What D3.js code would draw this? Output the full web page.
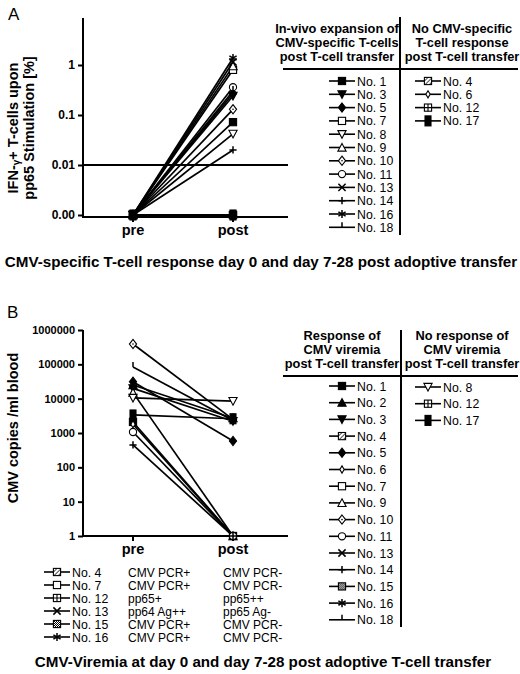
<!DOCTYPE html>
<html>
<head>
<meta charset="utf-8">
<script src="https://cdn.jsdelivr.net/npm/d3@7"></script>
<style>
  body { margin: 0; background: #fff; }
  svg { display: block; font-family: "Liberation Sans", Arial, sans-serif; }
</style>
</head>
<body>
<div id="chart"></div>
<script>
// Panel A - IFN-gamma+ T-cells (%) pre / post transfer
const timepoints = ["pre", "post"];
const aPatients = ["No. 1", "No. 3", "No. 5", "No. 7", "No. 8", "No. 9", "No. 10", "No. 11",
                   "No. 13", "No. 14", "No. 16", "No. 18", "No. 4", "No. 6", "No. 12", "No. 17"];
const aPre  = [0.001, 0.001, 0.001, 0.001, 0.001, 0.001, 0.001, 0.001,
               0.001, 0.001, 0.001, 0.001, 0.001, 0.001, 0.001, 0.001];
const aPost = [0.072, 0.24, 0.27, 0.8, 0.042, 0.95, 0.13, 0.36,
               1.15, 0.02, 1.38, 0.3, 0.001, 0.001, 0.001, 0.001];
const aTicks = [0.001, 0.01, 0.1, 1];
const aTickLabels = ["0.00", "0.01", "0.1", "1"];
const aThreshold = 0.01;
const aExpansion = ["No. 1", "No. 3", "No. 5", "No. 7", "No. 8", "No. 9", "No. 10", "No. 11",
                    "No. 13", "No. 14", "No. 16", "No. 18"];
const aNoResponse = ["No. 4", "No. 6", "No. 12", "No. 17"];

// Panel B - CMV copies / ml blood pre / post transfer
const bPatients = ["No. 10", "No. 18", "No. 5", "No. 2", "No. 3", "No. 9",
                   "No. 8", "No. 17", "No. 1", "No. 6", "No. 11", "No. 14"];
const bPre  = [390000, 83000, 31000, 25000, 20000, 15000, 10500, 3350, 2100, 1800, 1070, 450];
const bPost = [2500, 2300, 585, 2700, 2200, 1, 8500, 2600, 1, 1, 1, 1];
const bTicks = [1, 10, 100, 1000, 10000, 100000, 1000000];
const bResponse = ["No. 1", "No. 2", "No. 3", "No. 4", "No. 5", "No. 6", "No. 7", "No. 9",
                   "No. 10", "No. 11", "No. 13", "No. 14", "No. 15", "No. 16", "No. 18"];
const bNoResponse = ["No. 8", "No. 12", "No. 17"];
const bQualPatients = ["No. 4", "No. 7", "No. 12", "No. 13", "No. 15", "No. 16"];
const bQualPre  = ["CMV PCR+", "CMV PCR+", "pp65+", "pp64 Ag++", "CMV PCR+", "CMV PCR+"];
const bQualPost = ["CMV PCR-", "CMV PCR-", "pp65++", "pp65 Ag-", "CMV PCR-", "CMV PCR-"];

// marker shape per patient (same in both panels)
const markerOf = {
  "No. 1": "square", "No. 2": "triUp", "No. 3": "triDown", "No. 4": "hatch",
  "No. 5": "diamond", "No. 6": "diamondSmall", "No. 7": "squareOpen", "No. 8": "triDownOpen",
  "No. 9": "triUpOpen", "No. 10": "diamondOpen", "No. 11": "circleOpen", "No. 12": "grid",
  "No. 13": "cross", "No. 14": "plus", "No. 15": "check", "No. 16": "star",
  "No. 17": "rectTall", "No. 18": "tick"
};

const W = 520, H = 674;
const svg = d3.select("#chart").append("svg")
  .attr("width", W).attr("height", H)
  .attr("viewBox", [0, 0, W, H]);

const defs = svg.append("defs");
const hatch = defs.append("pattern").attr("id", "hatch")
  .attr("width", 3).attr("height", 3).attr("patternUnits", "userSpaceOnUse")
  .attr("patternTransform", "rotate(45)");
hatch.append("rect").attr("width", 3).attr("height", 3).attr("fill", "#fff");
hatch.append("line").attr("x1", 0).attr("y1", 0).attr("x2", 0).attr("y2", 3)
  .attr("stroke", "#000").attr("stroke-width", 1.4);
const check = defs.append("pattern").attr("id", "check")
  .attr("width", 2).attr("height", 2).attr("patternUnits", "userSpaceOnUse");
check.append("rect").attr("width", 2).attr("height", 2).attr("fill", "#fff");
check.append("rect").attr("width", 1).attr("height", 1).attr("fill", "#000");
check.append("rect").attr("x", 1).attr("y", 1).attr("width", 1).attr("height", 1).attr("fill", "#000");

// draw a marker centred at (x, y)
function marker(g, kind, x, y) {
  const s = 3.6;
  const m = g.append("g").attr("transform", `translate(${x},${y})`)
    .attr("stroke", "#000").attr("stroke-width", 1.1);
  const sq = (fill) => m.append("rect").attr("x", -s).attr("y", -s)
    .attr("width", 2 * s).attr("height", 2 * s).attr("fill", fill);
  const path = (d, fill) => m.append("path").attr("d", d).attr("fill", fill);
  switch (kind) {
    case "square": sq("#000"); break;
    case "squareOpen": sq("#fff"); break;
    case "hatch": sq("url(#hatch)"); break;
    case "check": sq("url(#check)"); break;
    case "grid":
      sq("#fff");
      path(`M${-s},0H${s}M0,${-s}V${s}`, "none"); break;
    case "triUp": path(`M0,${-s - 0.5}L${s + 0.5},${s}L${-s - 0.5},${s}Z`, "#000"); break;
    case "triUpOpen": path(`M0,${-s - 0.5}L${s + 0.5},${s}L${-s - 0.5},${s}Z`, "#fff"); break;
    case "triDown": path(`M0,${s + 0.5}L${s + 0.5},${-s}L${-s - 0.5},${-s}Z`, "#000"); break;
    case "triDownOpen": path(`M0,${s + 0.5}L${s + 0.5},${-s}L${-s - 0.5},${-s}Z`, "#fff"); break;
    case "diamond": path(`M0,${-s - 1}L${s},0L0,${s + 1}L${-s},0Z`, "#000"); break;
    case "diamondOpen":
      path(`M0,${-s - 1}L${s},0L0,${s + 1}L${-s},0Z`, "#fff");
      m.append("circle").attr("r", 0.8).attr("fill", "#000").attr("stroke", "none"); break;
    case "diamondSmall": path(`M0,${-s}L${s * 0.6},0L0,${s}L${-s * 0.6},0Z`, "#fff"); break;
    case "circleOpen": m.append("circle").attr("r", s).attr("fill", "#fff"); break;
    case "cross": path(`M${-s},${-s}L${s},${s}M${-s},${s}L${s},${-s}`, "none").attr("stroke-width", 1.5); break;
    case "plus": path(`M${-s},0H${s}M0,${-s}V${s}`, "none").attr("stroke-width", 1.5); break;
    case "star":
      path(`M0,${-s - 0.5}V${s + 0.5}M${-s},${-s * 0.6}L${s},${s * 0.6}M${-s},${s * 0.6}L${s},${-s * 0.6}`, "none")
        .attr("stroke-width", 1.5); break;
    case "rectTall": m.append("rect").attr("x", -3).attr("y", -5).attr("width", 6).attr("height", 10).attr("fill", "#000"); break;
    case "tick": path(`M0,0V${-s - 1.5}`, "none").attr("stroke-width", 1.5); break;
  }
  return m;
}

// legend row: line with marker and a label
function legendRow(g, name, mx, y, labelSize) {
  g.append("line").attr("x1", mx - 13).attr("x2", mx + 13).attr("y1", y).attr("y2", y)
    .attr("stroke", "#000").attr("stroke-width", 1.6);
  marker(g, markerOf[name], mx, y);
  g.append("text").attr("x", mx + 15).attr("y", y + 4.5)
    .attr("font-size", labelSize || 12.3).text(name);
}

function header(g, lines, cx, y0) {
  g.append("text").attr("text-anchor", "middle").attr("font-size", 12.8).attr("font-weight", "bold")
    .selectAll("tspan").data(lines).join("tspan")
    .attr("x", cx).attr("y", (d, i) => y0 + i * 14).text(d => d);
}

function panelFrame(g, x, yScale, ticks, labels, tickSize, yTop, yBottomAxis) {
  const axisY = d3.axisLeft(yScale).tickValues(ticks).tickSize(5).tickSizeOuter(0)
    .tickFormat((d, i) => labels[i]);
  const gy = g.append("g").attr("transform", `translate(${x.range()[0]},0)`).call(axisY);
  gy.select(".domain").remove();
  gy.selectAll(".tick line").attr("stroke-width", 2);
  gy.selectAll(".tick text").attr("font-size", tickSize).attr("font-weight", "bold")
    .attr("font-family", "Liberation Sans, Arial, sans-serif").attr("fill", "#000");
  const x0 = x.range()[0];
  g.append("line").attr("x1", x0).attr("x2", x0).attr("y1", yTop).attr("y2", yBottomAxis + 1)
    .attr("stroke", "#000").attr("stroke-width", 2);
  g.append("line").attr("x1", x0).attr("x2", 288).attr("y1", yBottomAxis).attr("y2", yBottomAxis)
    .attr("stroke", "#000").attr("stroke-width", 2);
  const gx = g.append("g");
  gx.selectAll("line").data(timepoints).join("line")
    .attr("x1", d => x(d)).attr("x2", d => x(d))
    .attr("y1", yBottomAxis).attr("y2", yBottomAxis + 5)
    .attr("stroke", "#000").attr("stroke-width", 2);
  gx.selectAll("text").data(timepoints).join("text")
    .attr("x", d => x(d)).attr("y", yBottomAxis + 18)
    .attr("text-anchor", "middle").attr("font-size", 14.5).attr("font-weight", "bold").text(d => d);
}

function drawSeries(g, x, y, names, pre, post) {
  names.forEach((name, i) => {
    g.append("line")
      .attr("x1", x("pre")).attr("y1", y(pre[i]))
      .attr("x2", x("post")).attr("y2", y(post[i]))
      .attr("stroke", "#000").attr("stroke-width", 1.7);
  });
  names.forEach((name, i) => {
    marker(g, markerOf[name], x("pre"), y(pre[i]));
    marker(g, markerOf[name], x("post"), y(post[i]));
  });
}

// ---------- Panel A ----------
const gA = svg.append("g");
gA.append("text").attr("x", 8).attr("y", 20).attr("font-size", 17).text("A");

const xA = d3.scalePoint().domain(timepoints).range([83, 283]).padding(0.5);
const yA = d3.scaleLog().domain([0.001, 1]).range([215, 65]);

panelFrame(gA, xA, yA, aTicks, aTickLabels, 12, 18, 217);
gA.append("line").attr("x1", 83).attr("x2", 288)
  .attr("y1", yA(aThreshold)).attr("y2", yA(aThreshold))
  .attr("stroke", "#000").attr("stroke-width", 2);

const yLabA = gA.append("text").attr("transform", "translate(0,128) rotate(-90)")
  .attr("text-anchor", "middle").attr("font-size", 14.5).attr("font-weight", "bold");
const l1 = yLabA.append("tspan").attr("x", 0).attr("y", 18);
l1.append("tspan").text("IFN-");
l1.append("tspan").attr("font-size", 10).attr("dy", 2).text("γ");
l1.append("tspan").attr("dy", -2).text("+ T-cells upon");
yLabA.append("tspan").attr("x", 0).attr("y", 34).text("pp65 Stimulation [%]");

drawSeries(gA, xA, yA, aPatients, aPre, aPost);

// legend A
gA.append("line").attr("x1", 400).attr("x2", 400).attr("y1", 17).attr("y2", 235)
  .attr("stroke", "#000").attr("stroke-width", 2);
gA.append("line").attr("x1", 283).attr("x2", 518).attr("y1", 69).attr("y2", 69)
  .attr("stroke", "#000").attr("stroke-width", 2);
header(gA, ["In-vivo expansion of", "CMV-specific T-cells", "post T-cell transfer"], 337, 33);
header(gA, ["No CMV-specific", "T-cell response", "post T-cell transfer"], 462, 33);
aExpansion.forEach((n, i) => legendRow(gA, n, 342, 81 + i * 13.3));
aNoResponse.forEach((n, i) => legendRow(gA, n, 428, 81 + i * 13.3));

gA.append("text").attr("x", 261).attr("y", 267).attr("text-anchor", "middle")
  .attr("font-size", 15.2).attr("font-weight", "bold")
  .text("CMV-specific T-cell response day 0 and day 7-28 post adoptive transfer");

// ---------- Panel B ----------
const gB = svg.append("g");
gB.append("text").attr("x", 7).attr("y", 318).attr("font-size", 17).text("B");

const xB = d3.scalePoint().domain(timepoints).range([83, 283]).padding(0.5);
const yB = d3.scaleLog().domain([1, 1000000]).range([536, 330]);

panelFrame(gB, xB, yB, bTicks, bTicks.map(d => String(d)), 11, 330, 536);

gB.append("text").attr("transform", "translate(18,428) rotate(-90)")
  .attr("text-anchor", "middle").attr("font-size", 14.5).attr("font-weight", "bold")
  .text("CMV copies /ml blood");

drawSeries(gB, xB, yB, bPatients, bPre, bPost);

// legend B (right)
gB.append("line").attr("x1", 401).attr("x2", 401).attr("y1", 330).attr("y2", 627)
  .attr("stroke", "#000").attr("stroke-width", 2);
gB.append("line").attr("x1", 283).attr("x2", 518).attr("y1", 376).attr("y2", 376)
  .attr("stroke", "#000").attr("stroke-width", 2);
header(gB, ["Response of", "CMV viremia", "post T-cell transfer"], 342, 340);
header(gB, ["No response of", "CMV viremia", "post T-cell transfer"], 462, 340);
bResponse.forEach((n, i) => legendRow(gB, n, 342, 386 + i * 16.7));
bNoResponse.forEach((n, i) => legendRow(gB, n, 428, 387 + i * 16.7));

// legend B (bottom, qualitative results)
bQualPatients.forEach((n, i) => {
  const y = 572 + i * 13;
  legendRow(gB, n, 57, y);
  gB.append("text").attr("x", 128).attr("y", y + 4.5).attr("font-size", 12).text(bQualPre[i]);
  gB.append("text").attr("x", 223).attr("y", y + 4.5).attr("font-size", 12).text(bQualPost[i]);
});

gB.append("text").attr("x", 263).attr("y", 667).attr("text-anchor", "middle")
  .attr("font-size", 15.2).attr("font-weight", "bold")
  .text("CMV-Viremia at day 0 and day 7-28 post adoptive T-cell transfer");
</script>
</body>
</html>
